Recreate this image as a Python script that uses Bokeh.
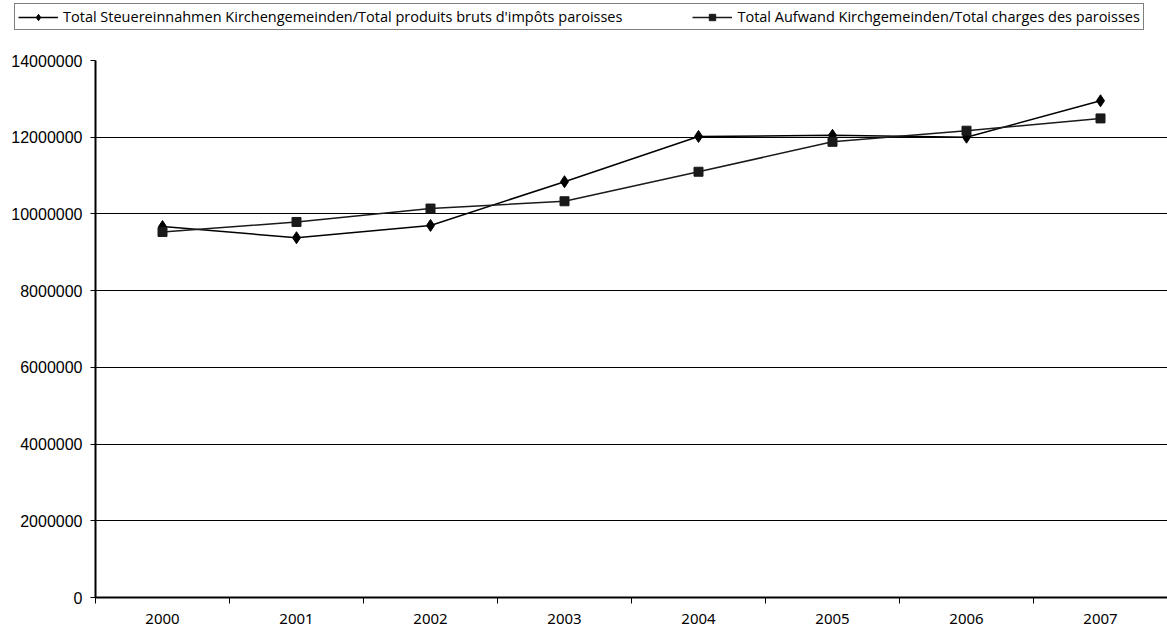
from bokeh.plotting import figure
from bokeh.layouts import column
from bokeh.models import (FixedTicker, Range1d, Legend, LegendItem, ColumnDataSource,
                          BasicTickFormatter)
from bokeh.embed import file_html
from bokeh.resources import INLINE

years = ["2000", "2001", "2002", "2003", "2004", "2005", "2006", "2007"]
steuer = [9670000, 9380000, 9700000, 10840000, 12020000, 12050000, 12000000, 12950000]
aufwand = [9530000, 9790000, 10140000, 10330000, 11100000, 11880000, 12170000, 12490000]
y_ticks = [0, 2000000, 4000000, 6000000, 8000000, 10000000, 12000000, 14000000]
label1 = "Total Steuereinnahmen Kirchengemeinden/Total produits bruts d'impôts paroisses"
label2 = "Total Aufwand Kirchgemeinden/Total charges des paroisses"

xs = list(range(len(years)))
src = ColumnDataSource(dict(x=xs, steuer=steuer, aufwand=aufwand))

LINE1 = dict(line_color="black", line_width=1.5)
MARK1 = dict(marker="diamond", size=12, fill_color="black", line_color="black")
LINE2 = dict(line_color="#1a1a1a", line_width=1.5)
MARK2 = dict(marker="square", size=9, fill_color="#1a1a1a", line_color="#1a1a1a")

# ---- main chart ----
p = figure(width=1167, height=593, output_backend="svg", toolbar_location=None,
           x_range=Range1d(-0.5, len(years) - 0.5), y_range=Range1d(0, y_ticks[-1]),
           min_border_left=95, min_border_right=0, min_border_top=24, min_border_bottom=32)
p.frame_align = False
p.outline_line_color = None
p.background_fill_color = "white"

p.line("x", "steuer", source=src, **LINE1)
p.scatter("x", "steuer", source=src, **MARK1)
p.line("x", "aufwand", source=src, **LINE2)
p.scatter("x", "aufwand", source=src, **MARK2)

p.xaxis.ticker = FixedTicker(ticks=xs, minor_ticks=[i - 0.5 for i in range(len(years) + 1)])
p.xaxis.major_label_overrides = {i: y for i, y in enumerate(years)}
p.xaxis.major_tick_out = 0
p.xaxis.major_tick_in = 0
p.xaxis.minor_tick_out = 6
p.xaxis.minor_tick_in = 0
p.xaxis.minor_tick_line_color = "black"
p.xaxis.axis_line_color = "black"
p.xaxis.axis_line_width = 2
p.xaxis.major_label_text_font = "Noto Sans"
p.xaxis.major_label_text_font_size = "15px"
p.xaxis.major_label_text_color = "black"
p.xaxis.major_label_standoff = 10
p.xgrid.grid_line_color = None

p.yaxis.ticker = FixedTicker(ticks=y_ticks)
p.yaxis.formatter = BasicTickFormatter(use_scientific=False)
p.yaxis.major_tick_out = 5
p.yaxis.major_tick_in = 0
p.yaxis.major_tick_line_color = "black"
p.yaxis.axis_line_color = "black"
p.yaxis.axis_line_width = 2
p.yaxis.major_label_text_font = "Liberation Sans"
p.yaxis.major_label_text_font_size = "16px"
p.yaxis.major_label_text_color = "black"
p.yaxis.major_label_standoff = 8
p.ygrid.ticker = FixedTicker(ticks=y_ticks)
p.ygrid.grid_line_color = "black"
p.ygrid.grid_line_width = 1

# ---- legend strip (same series, out of view, only for legend glyphs) ----
lg = figure(width=1167, height=36, output_backend="svg", toolbar_location=None,
            x_range=Range1d(100, 101), y_range=Range1d(0, 1),
            x_axis_type=None, y_axis_type=None,
            min_border_left=0, min_border_right=0, min_border_top=0, min_border_bottom=0)
lg.frame_align = False
lg.outline_line_color = None
lg.xgrid.grid_line_color = None
lg.ygrid.grid_line_color = None
a1 = lg.line("x", "steuer", source=src, **LINE1)
b1 = lg.scatter("x", "steuer", source=src, **MARK1)
a2 = lg.line("x", "aufwand", source=src, **LINE2)
b2 = lg.scatter("x", "aufwand", source=src, **MARK2)

legend = Legend(items=[LegendItem(label=label1, renderers=[a1, b1]),
                       LegendItem(label=label2, renderers=[a2, b2])],
                location=(14, 6), orientation="horizontal",
                glyph_width=40, glyph_height=16, label_standoff=5, spacing=70,
                padding=3, margin=0,
                label_text_font="Open Sans", label_text_font_size="14.5px",
                label_text_color="black",
                border_line_color="black", border_line_width=1,
                background_fill_color="white", background_fill_alpha=1)
lg.add_layout(legend)

layout = column(lg, p, spacing=0)
open("out.html", "w").write(file_html(layout, INLINE))
